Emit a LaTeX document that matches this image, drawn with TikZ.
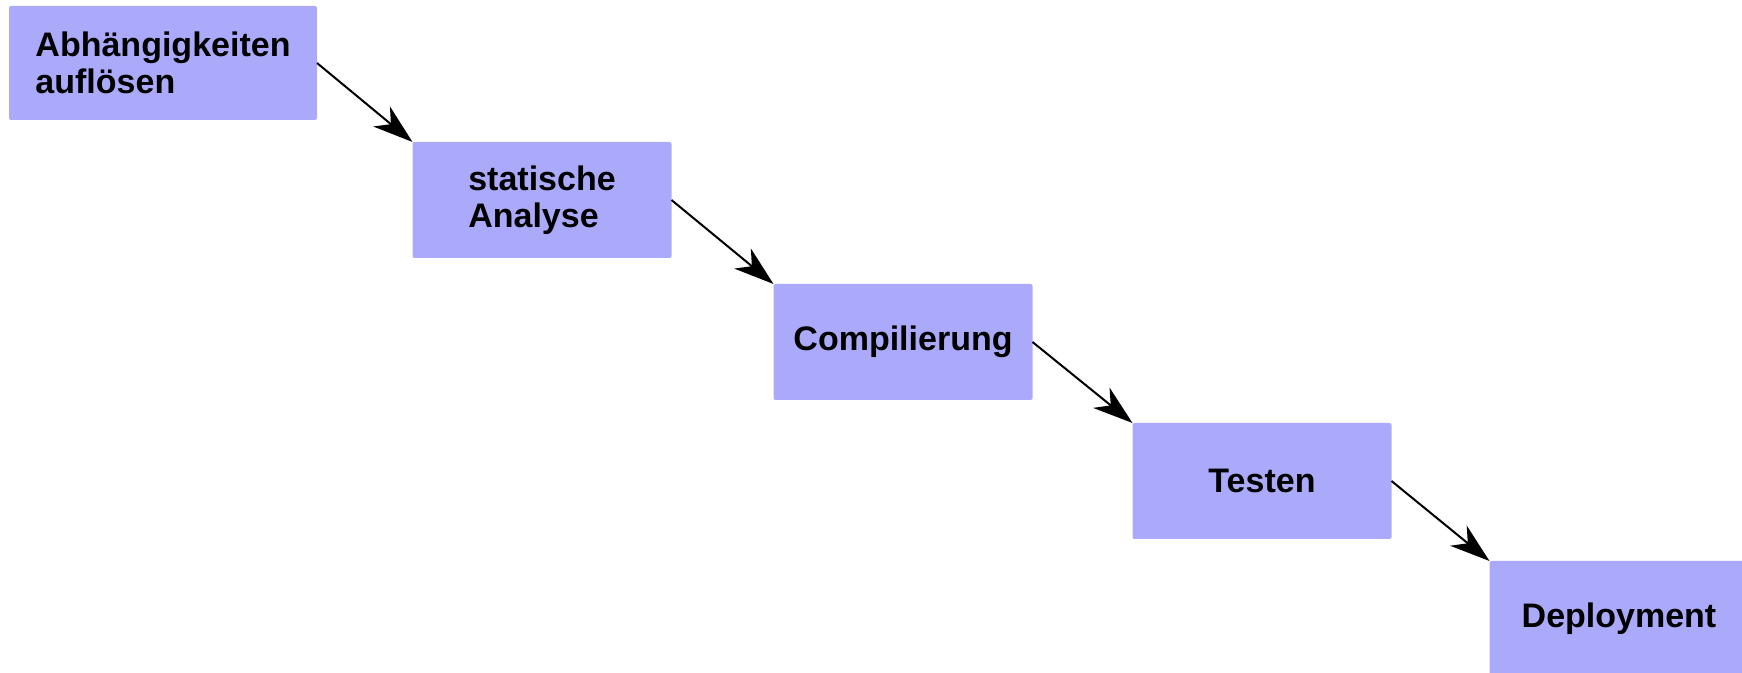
\documentclass[tikz,border=0pt]{standalone}
\usepackage{fontspec}
\setmainfont{Liberation Sans}
\usepackage{tikz}
\usetikzlibrary{positioning,arrows.meta,calc}
\definecolor{stagefill}{RGB}{171,170,250}

\begin{document}
\begin{tikzpicture}[
            outer sep=0pt,
            stage/.style={
                fill=stagefill, minimum width=129.5pt, minimum height=58pt, text=black, font=\bfseries\fontsize{17}{18.5}\selectfont, align=left, rounded corners=1pt, anchor=center
            },
            flow/.style={
                -{Stealth[length=20pt, width=13pt, inset=6pt]}, line width=1pt, black
            }
        ]
            \useasboundingbox (0,0) rectangle (871pt,-336.5pt);

            % STUFEN DER PIPELINE
            \node[stage, minimum width=154pt, minimum height=57pt] (deps) at (81.5pt,-31.5pt) {Abhängigkeiten\\auflösen};
            \node[stage] (analyse) at ([xshift=189.5pt, yshift=-68.5pt]deps.center) {statische\\Analyse};
            \node[stage] (compile) at ([xshift=180.5pt, yshift=-71pt]analyse.center) {Compilierung};
            \node[stage] (test) at ([xshift=179.5pt, yshift=-69.5pt]compile.center) {Testen};
            \node[stage] (deploy) at ([xshift=178.5pt, yshift=-69pt]test.center) {Deployment};

            % PFEILE: von rechts zur oberen linken Ecke
            \draw[flow] (deps.east) -- (analyse.north west);
            \draw[flow] (analyse.east) -- (compile.north west);
            \draw[flow] (compile.east) -- (test.north west);
            \draw[flow] (test.east) -- (deploy.north west);

        \end{tikzpicture}
\end{document}
